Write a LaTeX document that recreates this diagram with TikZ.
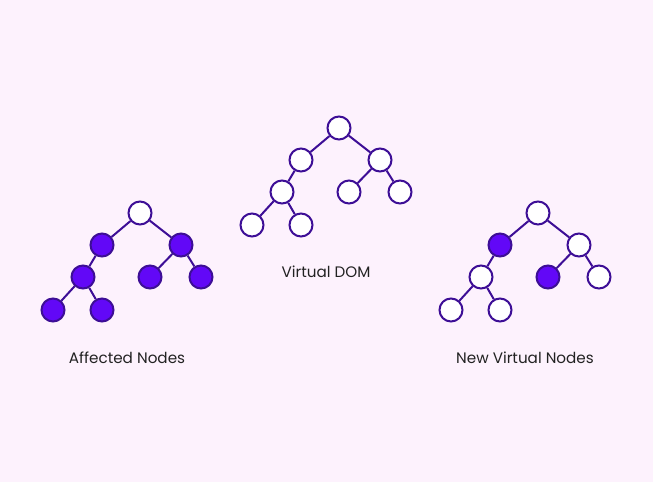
\documentclass[tikz,border=0pt]{standalone}
\usepackage{fontspec}
\setmainfont{Poppins}
\definecolor{bgc}{HTML}{FDF2FD}
\definecolor{edgec}{HTML}{3D0E96}
\definecolor{fillc}{HTML}{6208F7}
\definecolor{txtc}{HTML}{222222}
\tikzset{
  tn/.style={circle, draw=edgec, line width=2pt, fill=white, minimum size=23pt, inner sep=0pt},
  fn/.style={tn, fill=fillc},
  tedge/.style={draw=edgec, line width=2pt},
  lbl/.style={text=txtc, font=\fontsize{15.2}{18}\selectfont, inner sep=0pt}
}
\newcommand{\mytree}[9]{%
  \node[tn] (#1r) at (#2,#3) {};
  \node[#4] (#1L) at (#2-38,#3+32) {};
  \node[#5] (#1R) at (#2+41,#3+32) {};
  \node[#6] (#1LL) at (#2-57,#3+64) {};
  \node[#7] (#1LLL) at (#2-87,#3+97) {};
  \node[#8] (#1LLR) at (#2-38,#3+97) {};
  \node[#9] (#1RL) at (#2+10,#3+64) {};
  \node[\rrstyle] (#1RR) at (#2+61,#3+64) {};
  \draw[tedge] (#1r) -- (#1L);
  \draw[tedge] (#1r) -- (#1R);
  \draw[tedge] (#1L) -- (#1LL);
  \draw[tedge] (#1LL) -- (#1LLL);
  \draw[tedge] (#1LL) -- (#1LLR);
  \draw[tedge] (#1R) -- (#1RL);
  \draw[tedge] (#1R) -- (#1RR);
}
\begin{document}
\begin{tikzpicture}[x=1pt,y=-1pt]
\fill[bgc] (0,0) rectangle (653,482);
\useasboundingbox (0,0) rectangle (653,482);
\def\rrstyle{tn}
\mytree{m}{339}{128}{tn}{tn}{tn}{tn}{tn}{tn}
\def\rrstyle{fn}
\mytree{a}{140}{213}{fn}{fn}{fn}{fn}{fn}{fn}
\def\rrstyle{tn}
\mytree{n}{538}{213}{fn}{tn}{tn}{tn}{tn}{fn}
\node[lbl] (t1) at (326,272) {Virtual DOM};
\node[lbl] (t2) at (127,358) {Affected Nodes};
\node[lbl] (t3) at (525,358) {New Virtual Nodes};
\end{tikzpicture}
\end{document}
